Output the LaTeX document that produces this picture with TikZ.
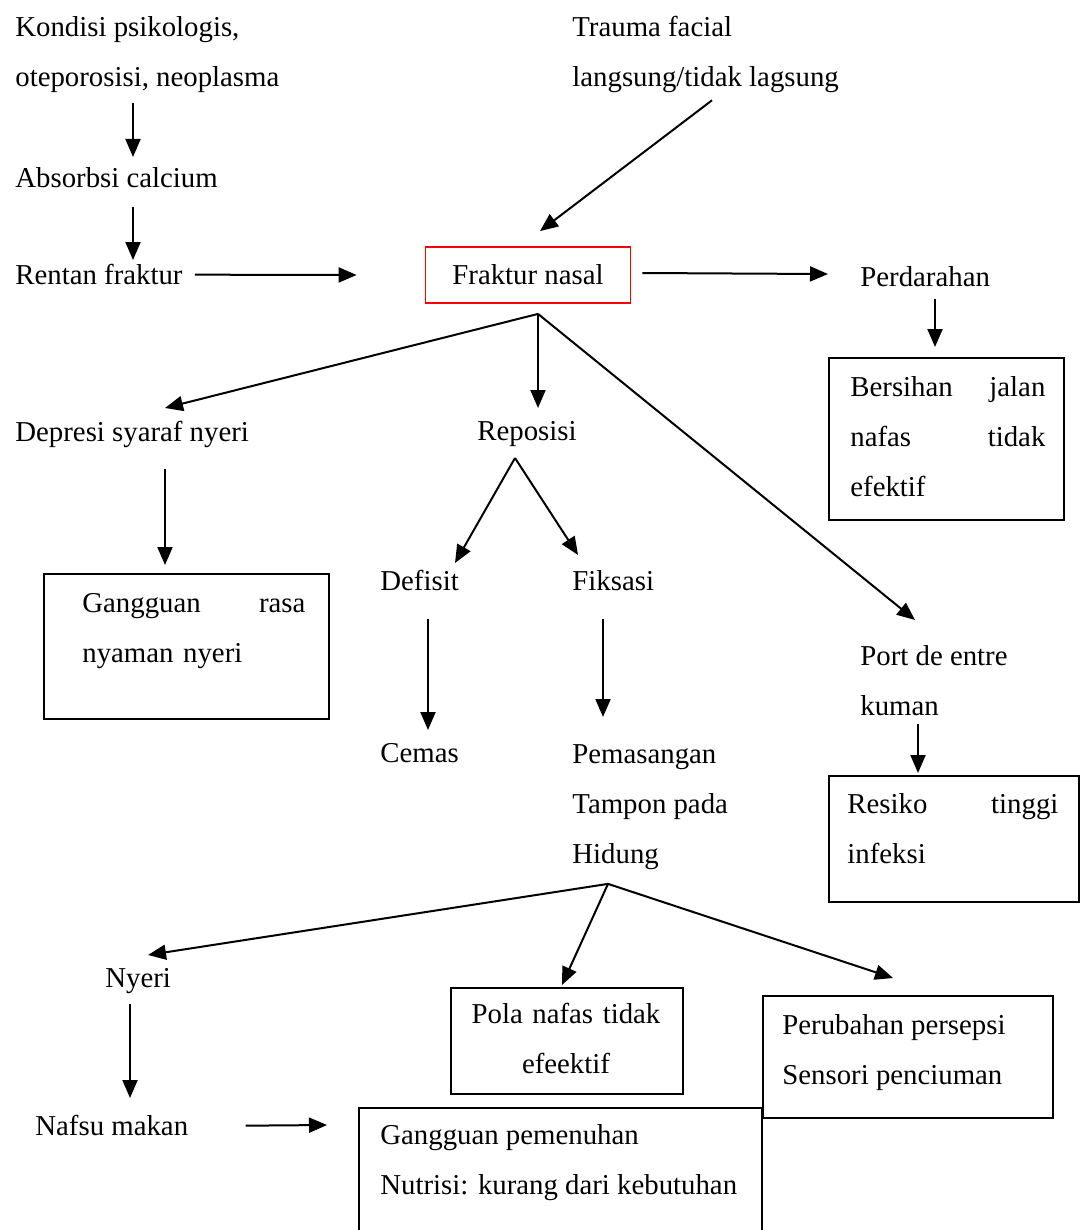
\documentclass[tikz,border=0pt]{standalone}
\usepackage{fontspec}
\setmainfont{Liberation Serif}
\usetikzlibrary{positioning,arrows.meta}

\begin{document}
\begin{tikzpicture}[
    x=0.5pt, y=-0.5pt,
    txt/.style={inner sep=0pt, anchor=north west, align=left, font=\fontsize{14.4}{25}\selectfont},
    box/.style={draw, line width=0.9pt, inner sep=0pt, anchor=north west},
    arr/.style={-{Triangle[length=9pt,width=7.5pt]}, line width=1pt}
]
\useasboundingbox (0,0) rectangle (1081,1230);

% Boxes
\node[box, draw=red, anchor=center, minimum width=102.5pt, minimum height=28pt,
    font=\fontsize{14.4}{25}\selectfont] (fraktur) at (528,275) {Fraktur nasal};
\node[box, minimum width=117.5pt, minimum height=81pt] (bersihanbox) at (828,357) {};
\node[box, minimum width=142.5pt, minimum height=72.5pt] (gangguanbox) at (43,573) {};
\node[box, minimum width=125pt, minimum height=63pt] (resikobox) at (828,775) {};
\node[box, minimum width=116pt, minimum height=53pt] (polabox) at (450,987) {};
\node[box, minimum width=145pt, minimum height=61pt] (perubahanbox) at (762,995) {};
\node[box, minimum width=201.5pt, minimum height=66pt] (pemenuhanbox) at (358,1107) {};

% Nodes
\node[txt] (kondisi) at (15,16) {Kondisi psikologis,\\oteporosisi, neoplasma};
\node[txt] (absorbsi) at (15,167) {Absorbsi calcium};
\node[txt] (rentan) at (15,264) {Rentan fraktur};
\node[txt] (trauma) at (572,16) {Trauma facial\\langsung/tidak lagsung};
\node[txt] (perdarahan) at (860,266) {Perdarahan};
\node[txt, text width=97.5pt] (bersihan) at (850,376) {Bersihan\hfill jalan\\ nafas\hfill tidak\\ efektif};
\node[txt] (depresi) at (15,421) {Depresi syaraf nyeri};
\node[txt, text width=111.5pt] (gangguan) at (82,593) {Gangguan\hfill rasa\\ nyaman nyeri};
\node[txt] (reposisi) at (477,421) {Reposisi};
\node[txt] (defisit) at (380,570) {Defisit};
\node[txt] (fiksasi) at (572,570) {Fiksasi};
\node[txt] (cemas) at (380,743) {Cemas};
\node[txt] (pemasangan) at (572,744) {Pemasangan\\Tampon pada\\Hidung};
\node[txt] (port) at (860,645) {Port de entre\\kuman};
\node[txt, text width=105.5pt] (resiko) at (847,793) {Resiko\hfill tinggi\\ infeksi};
\node[txt] (nyeri) at (105,968) {Nyeri};
\node[txt] (nafsu) at (35,1115) {Nafsu makan};
\node[txt, anchor=north, align=center, text width=106pt] (pola) at (566,1003) {Pola nafas tidak\\efeektif};
\node[txt] (perubahan) at (782,1014) {Perubahan persepsi\\Sensori penciuman};
\node[txt] (pemenuhan) at (380,1124) {Gangguan pemenuhan\\Nutrisi: kurang dari kebutuhan};

% Fork points
\coordinate (fork) at ([xshift=5pt,yshift=-5pt]fraktur.south);
\coordinate (repfork) at ([xshift=19pt,yshift=-5.5pt]reposisi.south west);
\coordinate (hidfork) at ([xshift=18pt,yshift=-7pt]pemasangan.south west);

% Arrows
\draw[arr] ([xshift=59pt,yshift=-5pt]kondisi.south west) -- ([xshift=59pt,yshift=5pt]absorbsi.north west);
\draw[arr] ([xshift=59pt,yshift=-9.5pt]absorbsi.south west) -- ([xshift=59pt,yshift=2pt]rentan.north west);
\draw[arr] ([xshift=6pt]rentan.east) -- ([xshift=-34pt]fraktur.west);
\draw[arr] ([xshift=5.5pt,yshift=1pt]fraktur.east) -- ([xshift=-16pt,yshift=1.25pt]perdarahan.west);
\draw[arr] ([xshift=70pt,yshift=-3.5pt]trauma.south west) -- ([xshift=6pt,yshift=7.5pt]fraktur.north);

\draw[arr] (fork) -- ([xshift=75pt,yshift=6.5pt]depresi.north west);
\draw[arr] (fork) -- ([xshift=30.5pt,yshift=6.5pt]reposisi.north west);
\draw[arr] (fork) -- ([xshift=27.5pt,yshift=12.5pt]port.north west);

\draw[arr] ([xshift=37.5pt,yshift=-6pt]perdarahan.south west) -- ([xshift=53.5pt,yshift=5pt]bersihanbox.north west);
\draw[arr] ([xshift=75pt,yshift=-10.5pt]depresi.south west) -- ([xshift=61pt,yshift=4pt]gangguanbox.north west);

\draw[arr] (repfork) -- ([xshift=37.5pt,yshift=3.5pt]defisit.north west);
\draw[arr] (repfork) -- ([xshift=3pt,yshift=7.5pt]fiksasi.north west);
\draw[arr] ([xshift=24pt,yshift=-14pt]defisit.south west) -- ([xshift=24pt,yshift=6.5pt]cemas.north west);
\draw[arr] ([xshift=15.5pt,yshift=-14pt]fiksasi.south west) -- ([xshift=15.5pt,yshift=13.5pt]pemasangan.north west);
\draw[arr] ([xshift=29pt,yshift=-4pt]port.south west) -- ([xshift=45pt,yshift=1pt]resikobox.north west);

\draw[arr] (hidfork) -- ([xshift=21.5pt,yshift=6.5pt]nyeri.north west);
\draw[arr] (hidfork) -- ([xshift=56pt,yshift=1pt]polabox.north west);
\draw[arr] (hidfork) -- ([xshift=65.5pt,yshift=8.5pt]perubahanbox.north west);

\draw[arr] ([xshift=12.5pt,yshift=-5pt]nyeri.south west) -- ([xshift=47.5pt,yshift=8.5pt]nafsu.north west);
\draw[arr] ([xshift=28.5pt]nafsu.east) -- ([xshift=-15.5pt,yshift=-9pt]pemenuhanbox.north west);

\end{tikzpicture}
\end{document}
